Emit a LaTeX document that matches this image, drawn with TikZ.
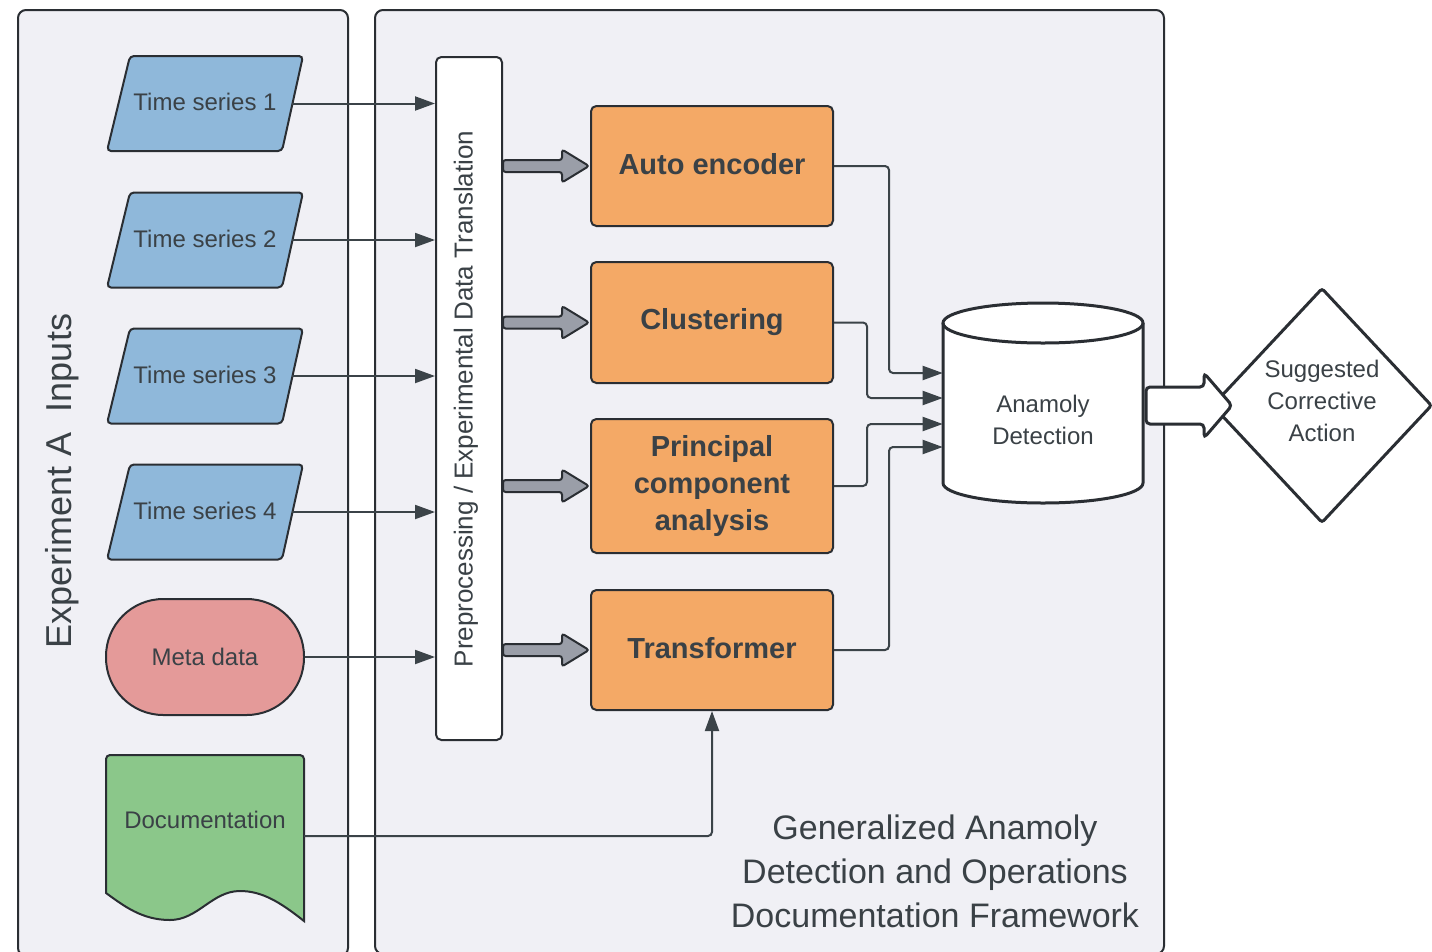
\documentclass[tikz,border=0pt]{standalone}
\usepackage{fontspec}
\setmainfont{Liberation Sans}
\usetikzlibrary{shapes.geometric,arrows.meta,calc}
\definecolor{panelbg}{HTML}{F0F0F5}
\definecolor{dk}{HTML}{2A2E33}
\definecolor{txt}{HTML}{3A4146}
\definecolor{tsblue}{HTML}{8FB8DA}
\definecolor{metared}{HTML}{E49A99}
\definecolor{docgreen}{HTML}{8BC78A}
\definecolor{orng}{HTML}{F4A966}
\definecolor{fatgray}{HTML}{9A9EA8}
\definecolor{conncol}{HTML}{3B4348}
\tikzset{
  panel/.style={draw=dk, line width=1.5pt, fill=panelbg, rounded corners=6pt},
  tsshape/.style={draw=dk, line width=1.5pt, fill=tsblue, rounded corners=3pt},
  tsbox/.style={rectangle, minimum width=130.5pt, minimum height=71.25pt, inner sep=0pt,
    text=txt, font=\fontsize{18pt}{24pt}\selectfont},
  algbox/.style={rectangle, draw=dk, line width=1.5pt, fill=orng, rounded corners=4pt,
    minimum width=181.5pt, text=txt, align=center,
    font=\fontsize{21.75pt}{28pt}\selectfont\bfseries},
  fatarrow/.style={fill=fatgray, draw=dk, line width=1.5pt, rounded corners=2pt},
  blockarrow/.style={fill=white, draw=dk, line width=2.25pt, rounded corners=3pt},
  conn/.style={draw=conncol, line width=1.5pt, rounded corners=3pt,
    -{Triangle[length=15pt,width=10.5pt]}},
  plain/.style={text=txt, align=center, font=\fontsize{18pt}{24pt}\selectfont},
}
\begin{document}
\begin{tikzpicture}[x=0.75pt,y=-0.75pt]
\useasboundingbox (0,0) rectangle (1432,951);
\fill[white] (0,0) rectangle (1432,951);
% panels
\path[panel] (18,10) rectangle (348,956);
\path[panel] (375,10) rectangle (1164,954);

% left panel title
\node[rotate=90, text=txt, font=\fontsize{27pt}{32pt}\selectfont] (lbl) at (62,481) {Experiment A\ \ Inputs};

% time series (parallelograms)
\foreach \i/\yc in {1/103.5, 2/240, 3/376, 4/512}{
  \path[tsshape] (130,\yc-47.5) -- (303,\yc-47.5) -- (282,\yc+47.5) -- (107,\yc+47.5) -- cycle;
  \node[tsbox] (ts\i) at (205,\yc) {\raisebox{2pt}{Time series \i}};
}

% meta data
\node[rectangle, rounded corners=43pt, minimum width=148.5pt, minimum height=87pt,
  draw=dk, line width=1.5pt, fill=metared, plain] (meta) at (205,657) {\raisebox{1pt}{Meta data}};

% documentation
\path[draw=dk, line width=1.5pt, fill=docgreen]
  (106,893) [rounded corners=3pt] -- (106,755) -- (304,755) [sharp corners] -- (304,921)
  .. controls (280,902) and (262,891) .. (240,891)
  .. controls (212,891) and (198,920) .. (170,920)
  .. controls (142,920) and (124,906) .. (106,893) -- cycle;
\node[plain] (doc) at (205,820) {Documentation};
\coordinate (docout) at (304,836);

% preprocessing box
\node[rectangle, draw=dk, line width=1.5pt, fill=white, rounded corners=4pt,
  minimum width=49.5pt, minimum height=512.25pt] (pre) at (469,398.5) {};
\node[rotate=90, text=txt, font=\fontsize{19.5pt}{24pt}\selectfont] (pretxt) at (466,399)
  {Preprocessing / Experimental Data Translation};

% algorithm boxes
\node[algbox, minimum height=90pt] (ae) at (712,166) {\raisebox{3.5pt}{Auto encoder}};
\node[algbox, minimum height=90.75pt] (cl) at (712,322.5) {\raisebox{3.5pt}{Clustering}};
\node[algbox, minimum height=100.5pt] (pca) at (712,486) {Principal\\component\\analysis};
\node[algbox, minimum height=90pt] (tr) at (712,650) {\raisebox{3.5pt}{Transformer}};

% fat arrows (preprocessing -> algorithms)
\foreach \yc in {166, 322.5, 486, 650}{
  \path[fatarrow] (503,\yc-6) -- (562,\yc-6) -- (562,\yc-16.5) -- (589,\yc)
    -- (562,\yc+16.5) -- (562,\yc+6) -- (503,\yc+6) -- cycle;
}

% cylinder
\path[fill=white] (943,323) -- (943,483) arc[start angle=180, end angle=0, x radius=100, y radius=20]
  -- (1143,323) arc[start angle=0, end angle=-180, x radius=100, y radius=20] -- cycle;
\draw[dk, line width=2.25pt] (943,323) -- (943,483) arc[start angle=180, end angle=0, x radius=100, y radius=20] -- (1143,323);
\draw[dk, line width=2.25pt] (1043,323) ellipse[x radius=100, y radius=20];
\node[plain, minimum width=150pt, minimum height=120pt, inner sep=0pt] (cyl) at (1043,420) {Anamoly\\Detection};

% diamond
\node[diamond, aspect=0.936, minimum width=165pt, minimum height=176.25pt, inner sep=0pt,
  draw=dk, line width=2.25pt, fill=white, rounded corners=2pt] (sca) at (1322,405.5) {};
\node[plain] (scatxt) at (1322,401) {Suggested\\Corrective\\Action};

% block arrow (cylinder -> diamond)
\path[blockarrow] (1146,387) -- (1204,387) -- (1204,373) -- (1232,405.5)
  -- (1204,438) -- (1204,424) -- (1146,424) -- cycle;

% footer
\node[text=txt, align=center, font=\fontsize{25.5pt}{33pt}\selectfont] (ftr) at (935,871)
  {Generalized Anamoly\\Detection and Operations\\Documentation Framework};

% connectors inputs -> preprocessing
\draw[conn] (ts1.east) -- (ts1.east -| pre.west);
\draw[conn] (ts2.east) -- (ts2.east -| pre.west);
\draw[conn] (ts3.east) -- (ts3.east -| pre.west);
\draw[conn] (ts4.east) -- (ts4.east -| pre.west);
\draw[conn] (meta.east) -- (meta.east -| pre.west);
\draw[conn] (docout) -| (tr.south);

% connectors algorithms -> cylinder
\draw[conn] (ae.east) -- ++(55,0) |- ($(cyl.west)+(0,-47)$);
\draw[conn] (cl.east) -- ++(33,0) |- ($(cyl.west)+(0,-22)$);
\draw[conn] (pca.east) -- ++(33,0) |- ($(cyl.west)+(0,4)$);
\draw[conn] (tr.east) -- ++(55,0) |- ($(cyl.west)+(0,27)$);
\end{tikzpicture}
\end{document}
